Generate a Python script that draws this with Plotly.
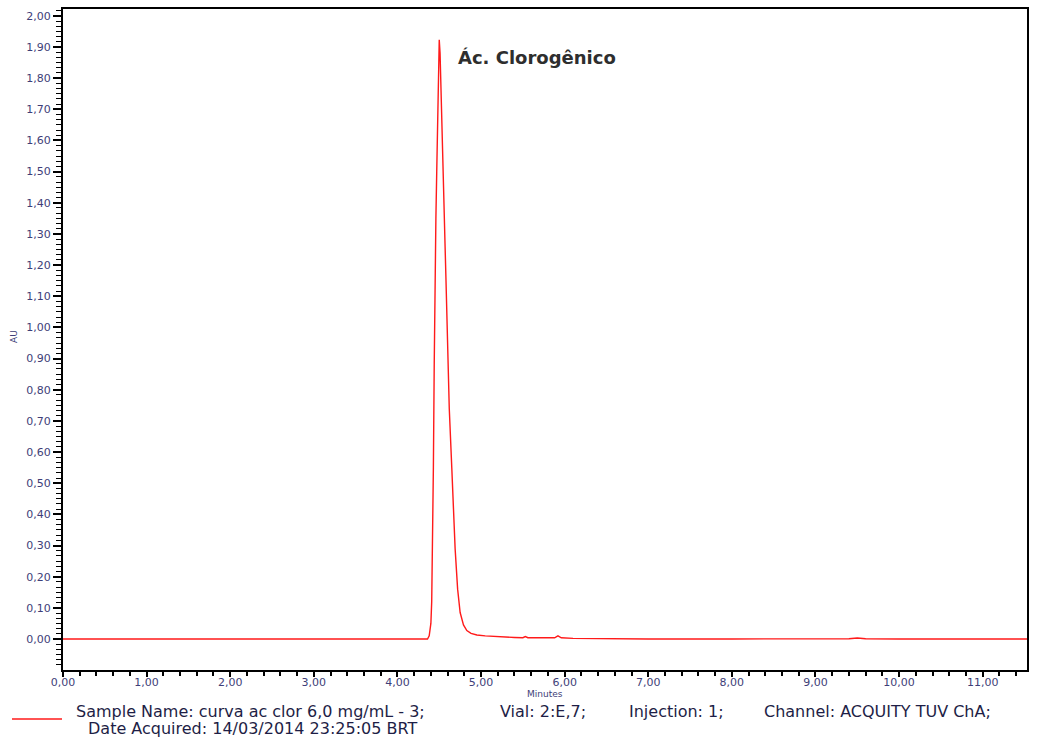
import plotly.graph_objects as go

# Chromatogram trace (retention time in minutes, absorbance in AU)
time_min = [0.00, 0.50, 1.00, 1.50, 2.00, 2.50, 3.00, 3.50, 4.00, 4.20, 4.30,
            4.36, 4.38, 4.40, 4.41, 4.42, 4.43, 4.44, 4.45, 4.46, 4.47, 4.48,
            4.49, 4.50, 4.51, 4.52, 4.54, 4.55, 4.57, 4.58, 4.60, 4.62, 4.65,
            4.67, 4.69, 4.72, 4.75, 4.79, 4.83, 4.88, 4.95, 5.05, 5.20, 5.40,
            5.50, 5.53, 5.56, 5.70, 5.88, 5.92, 5.96, 6.10, 6.50, 7.00, 8.00,
            9.00, 9.40, 9.50, 9.60, 10.00, 11.00, 11.53]
absorbance_au = [0.000, 0.000, 0.000, 0.000, 0.000, 0.000, 0.000, 0.000, 0.000, 0.000, 0.000,
                 0.000, 0.010, 0.050, 0.120, 0.280, 0.550, 0.880, 1.180, 1.350, 1.500, 1.680,
                 1.840, 1.923, 1.880, 1.760, 1.560, 1.440, 1.260, 1.160, 0.900, 0.740, 0.550,
                 0.420, 0.290, 0.160, 0.085, 0.045, 0.027, 0.018, 0.013, 0.010, 0.007, 0.005,
                 0.004, 0.008, 0.004, 0.003, 0.004, 0.010, 0.004, 0.002, 0.001, 0.000, 0.000,
                 0.000, 0.001, 0.003, 0.001, 0.000, 0.000, 0.000]

peak_label = "Ác. Clorogênico"
peak_label_pos = (4.70, 1.865)

x_range = [0.0, 11.53]
# lower bound sits a hair above -0,10 so that only 0,00 .. 2,00 get labels
y_range = [-0.0995, 2.022]

info_line1 = ["Sample Name: curva ac clor 6,0 mg/mL - 3;", "Vial: 2:E,7;",
              "Injection: 1;", "Channel: ACQUITY TUV ChA;"]
info_line1_px = [75, 499, 628, 763]
info_line2 = "Date Acquired: 14/03/2014 23:25:05 BRT"

TICK_COLOR = "#3e3e78"
TEXT_COLOR = "#1e1e46"
W, H = 1043, 738
M_L, M_R, M_T, M_B = 63, 16, 7, 68

fig = go.Figure()
fig.add_trace(go.Scatter(x=time_min, y=absorbance_au, mode="lines",
                         line=dict(color="#ff1a1a", width=1.4),
                         showlegend=False, hoverinfo="x+y"))

axis_common = dict(showgrid=False, zeroline=False, showline=True, linecolor="black",
                   linewidth=2, mirror=True, ticks="outside", tickcolor="black",
                   tickformat=".2f",
                   tickfont=dict(family="DejaVu Sans", size=11, color=TICK_COLOR))

fig.update_xaxes(range=x_range, dtick=1, tick0=0, ticklen=5, tickwidth=1.5,
                 ticklabelstandoff=-4,
                 minor=dict(ticks="outside", dtick=0.2, tick0=0, ticklen=4,
                            tickwidth=1.5, tickcolor="black"),
                 **axis_common)
fig.update_yaxes(range=y_range, dtick=0.1, tick0=0, ticklen=8, tickwidth=1.5,
                 minor=dict(ticks="outside", dtick=0.1 / 6, tick0=0, ticklen=5,
                            tickwidth=1.2, tickcolor="black"),
                 **axis_common)


def px_note(text, px, py, size, color=TEXT_COLOR, family="DejaVu Sans",
            xanchor="left", angle=0):
    """Place a text label at a pixel position of the page."""
    fig.add_annotation(text=text, xref="paper", yref="paper", x=0, y=0,
                       xshift=px - M_L, yshift=(H - M_B) - py,
                       xanchor=xanchor, yanchor="middle", showarrow=False,
                       borderpad=0, textangle=angle,
                       font=dict(family=family, size=size, color=color))


# axis titles
px_note("Minutes", 545, 694, 9, color=TICK_COLOR, xanchor="center")
px_note("AU", 14, 337, 9, color=TICK_COLOR, xanchor="center", angle=-90)

# peak annotation
fig.add_annotation(text=peak_label, x=peak_label_pos[0], y=peak_label_pos[1],
                   xref="x", yref="y", xanchor="left", yanchor="middle",
                   showarrow=False,
                   font=dict(family="DejaVu Sans", size=18, weight="bold", color="#2e2e2e"))

# sample information footer
for txt, px in zip(info_line1, info_line1_px):
    px_note(txt, px, 711, 16)
px_note(info_line2, 87, 728, 16)

# legend sample line for the trace
fig.add_shape(type="line", xref="paper", yref="paper", xsizemode="pixel",
              ysizemode="pixel", xanchor=0, yanchor=0,
              x0=12 - M_L, x1=62 - M_L, y0=-(719 - (H - M_B)), y1=-(719 - (H - M_B)),
              line=dict(color="#ff1a1a", width=1.6))

fig.update_layout(width=W, height=H, margin=dict(l=M_L, r=M_R, t=M_T, b=M_B),
                  paper_bgcolor="white", plot_bgcolor="white", separators=",.")

fig.write_html("out.html")
